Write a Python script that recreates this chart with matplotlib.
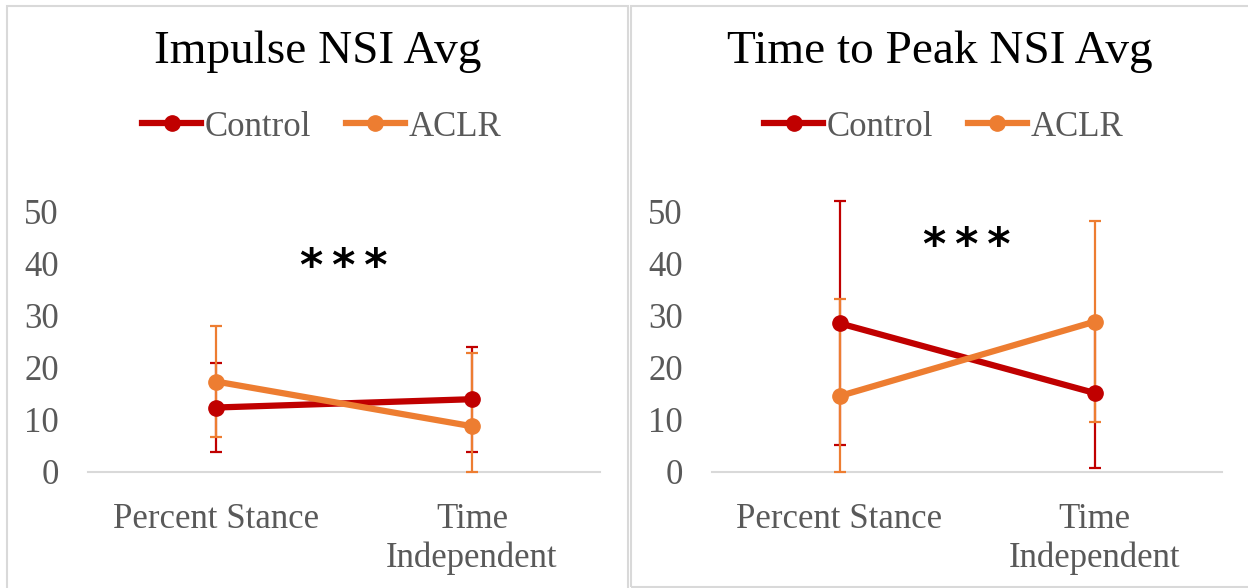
import numpy as np
import matplotlib.pyplot as plt
from matplotlib.patches import Rectangle
from matplotlib.lines import Line2D

plt.rcParams['font.family'] = ['Liberation Serif', 'DejaVu Serif']

categories = ["Percent Stance", "Time\nIndependent"]
groups = ["Control", "ACLR"]

# Impulse NSI Avg: means and error (+/-)
impulse_control = [12.4, 14.0]
impulse_control_err = [8.5, 10.1]
impulse_aclr = [17.4, 8.8]
impulse_aclr_err = [10.6, 14.0]

# Time to Peak NSI Avg
ttp_control = [28.6, 15.2]
ttp_control_err = [23.5, 14.4]
ttp_aclr = [14.6, 28.9]
ttp_aclr_err = [18.6, 19.3]

titles = ["Impulse NSI Avg", "Time to Peak NSI Avg"]
star_y = [39.4, 43.3]

colors = {"Control": "#C00000", "ACLR": "#ED7D31"}
gray = "#595959"
border = "#D9D9D9"

W, H = 1248, 588
fig = plt.figure(figsize=(W / 100, H / 100), dpi=100)

# panel frames (pixels: x0, y0 top, x1, y1 bottom)
frames = [(7, 6, 628, 600), (631, 6, 1260, 587)]
for x0, y0, x1, y1 in frames:
    fig.patches.append(Rectangle((x0 / W, 1 - y1 / H), (x1 - x0) / W, (y1 - y0) / H,
                                 transform=fig.transFigure, fill=False,
                                 edgecolor=border, linewidth=1.5, zorder=0))

# axes boxes in pixels (left, right), y: 0 -> 472, 55 -> 186
ax_px = [(88, 600), (712, 1222)]
data = [
    (impulse_control, impulse_control_err, impulse_aclr, impulse_aclr_err),
    (ttp_control, ttp_control_err, ttp_aclr, ttp_aclr_err),
]
panel_cx = [(7 + 628) / 2 + 4, (631 + 1248) / 2 + 4]

for i, (l, r) in enumerate(ax_px):
    ax = fig.add_axes([l / W, 1 - 472 / H, (r - l) / W, (472 - 186) / H])
    c, ce, a, ae = data[i]
    x = np.arange(len(categories))
    handles = []
    for name, vals, err in [("Control", c, ce), ("ACLR", a, ae)]:
        vals = np.array(vals)
        err = np.array(err)
        lower = np.minimum(err, vals)
        ax.errorbar(x, vals, yerr=[lower, err], color=colors[name], lw=4.5,
                    marker="o", markersize=11, ecolor=colors[name],
                    elinewidth=1.6, capsize=4.5, capthick=1.6,
                    clip_on=False, zorder=3)
        handles.append(Line2D([], [], color=colors[name], lw=4.5, marker="o",
                              markersize=11, label=name))
    ax.set_xlim(-0.5, 1.5)
    ax.set_ylim(0, 55)
    ax.set_yticks([0, 10, 20, 30, 40, 50])
    ax.set_xticks(x)
    ax.set_xticklabels(categories, color=gray, fontsize=25, linespacing=1.25)
    ax.tick_params(axis="y", labelcolor=gray, labelsize=25, length=0, pad=21)
    ax.tick_params(axis="x", length=0, pad=22)
    for s in ["top", "right", "left"]:
        ax.spines[s].set_visible(False)
    ax.spines["bottom"].set_color(border)
    ax.spines["bottom"].set_linewidth(1.5)
    ax.patch.set_alpha(0)
    ax.text(0.5, star_y[i], "*\u2009*\u2009*", ha="center", va="center", fontsize=32,
            family="DejaVu Sans", fontweight="bold", color="black")

    fig.text(panel_cx[i] / W - 4 / W, 1 - 52 / H, titles[i], ha="center", va="center",
             fontsize=34, color="black")
    leg = ax.legend(handles=handles, loc="center",
                    bbox_to_anchor=(panel_cx[i] / W, 1 - 127 / H),
                    bbox_transform=fig.transFigure, ncol=2, frameon=False,
                    fontsize=25, handlelength=1.7, handletextpad=0.1,
                    columnspacing=1.0)
    for t in leg.get_texts():
        t.set_color(gray)

fig.savefig("out.png", dpi=100)
